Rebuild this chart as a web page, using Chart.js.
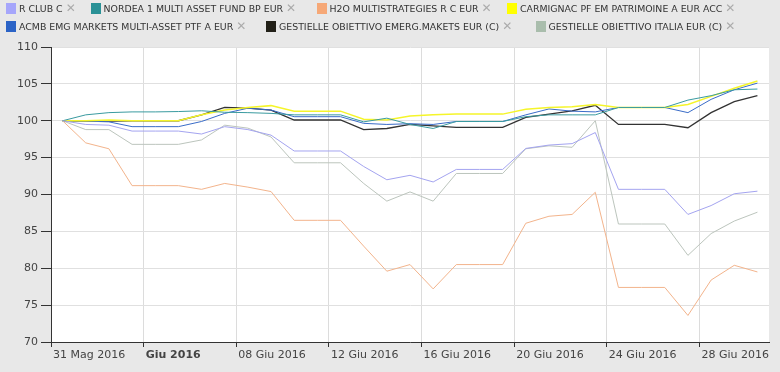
<!DOCTYPE html>
<html>
<head>
<meta charset="utf-8">
<script src="https://cdn.jsdelivr.net/npm/chart.js@4.4.1/dist/chart.umd.min.js"></script>
<style>
html, body { margin: 0; padding: 0; background: #e8e8e8; }
#wrap { position: relative; width: 780px; height: 372px; overflow: hidden; font-family: "DejaVu Sans", Verdana, sans-serif; }
#chart { position: absolute; left: 0; top: 0; }
.leg { position: absolute; display: flex; align-items: center; height: 14px; font-size: 9.4px; color: #333; white-space: nowrap; }
.leg .sq { width: 10px; height: 11px; margin-right: 3px; }
.leg .x { color: #aaa; font-size: 12px; margin-left: 3px; }
</style>
</head>
<body>
<div id="wrap">
  <canvas id="chart" width="780" height="372"></canvas>
  <div id="legend"></div>
</div>
<script>
// giorni (31 Mag - 30 Giu 2016)
const dates = ['31/05','01/06','02/06','03/06','04/06','05/06','06/06','07/06','08/06','09/06',
  '10/06','11/06','12/06','13/06','14/06','15/06','16/06','17/06','18/06','19/06',
  '20/06','21/06','22/06','23/06','24/06','25/06','26/06','27/06','28/06','29/06','30/06'];

// etichette asse x (posizione in giorni dall'inizio)
const tickValues = [-0.5, 3.5, 7.5, 11.5, 15.5, 19.5, 23.5, 27.5];
const tickLabels = ['31 Mag 2016', 'Giu 2016', '08 Giu 2016', '12 Giu 2016', '16 Giu 2016', '20 Giu 2016', '24 Giu 2016', '28 Giu 2016'];

// serie (base 100)
const rClub = [100, 99.5, 99.4, 98.6, 98.6, 98.6, 98.2, 99.2, 98.8, 98.05, 95.9, 95.9, 95.9, 93.8, 92.0, 92.6, 91.7, 93.4, 93.4, 93.4,
  96.25, 96.7, 96.9, 98.4, 90.7, 90.7, 90.7, 87.3, 88.5, 90.1, 90.45];
const nordea = [100, 100.8, 101.1, 101.2, 101.2, 101.25, 101.35, 101.15, 101.1, 101.0, 100.8, 100.8, 100.8, 99.85, 100.35, 99.5, 98.95, 99.9, 99.9, 99.9,
  100.55, 100.8, 100.8, 100.8, 101.8, 101.8, 101.8, 102.8, 103.4, 104.2, 104.3];
const h2o = [100, 97.0, 96.2, 91.2, 91.2, 91.2, 90.7, 91.5, 91.0, 90.4, 86.5, 86.5, 86.5, 83.0, 79.6, 80.5, 77.2, 80.5, 80.5, 80.5,
  86.1, 87.05, 87.3, 90.3, 77.4, 77.4, 77.4, 73.6, 78.4, 80.4, 79.5];
const carmignac = [100, 100, 100.1, 100, 100, 100, 100.8, 101.45, 101.8, 102.05, 101.3, 101.3, 101.3, 100.2, 100.1, 100.65, 100.8, 100.9, 100.9, 100.9,
  101.55, 101.8, 101.9, 102.2, 101.8, 101.8, 101.8, 102.2, 103.3, 104.4, 105.4];
const acmb = [100, 99.95, 99.85, 99.2, 99.2, 99.2, 99.9, 101.0, 101.7, 101.45, 100.55, 100.55, 100.55, 99.65, 99.5, 99.6, 99.5, 99.9, 99.9, 99.9,
  100.8, 101.6, 101.3, 101.2, 101.8, 101.8, 101.8, 101.1, 102.9, 104.2, 105.1];
const emerg = [100, 99.95, 99.95, 100, 100, 100, 100.8, 101.8, 101.7, 101.45, 100.1, 100.1, 100.1, 98.8, 98.95, 99.5, 99.3, 99.1, 99.1, 99.1,
  100.45, 100.9, 101.35, 102.1, 99.5, 99.5, 99.5, 99.05, 101.1, 102.6, 103.4];
const italia = [100, 98.8, 98.8, 96.8, 96.8, 96.8, 97.4, 99.4, 99.0, 97.8, 94.3, 94.3, 94.3, 91.5, 89.1, 90.35, 89.1, 92.85, 92.85, 92.85,
  96.2, 96.6, 96.4, 100.0, 86.0, 86.0, 86.0, 81.75, 84.7, 86.4, 87.6];

const series = [
  { name: 'R CLUB C', data: rClub, box: '#a6a6fb', line: '#a4a4f0', w: 1, left: 6, top: 1 },
  { name: 'NORDEA 1 MULTI ASSET FUND BP EUR', data: nordea, box: '#2a9196', line: '#3a9ba0', w: 1, left: 90.5, top: 1 },
  { name: 'H2O MULTISTRATEGIES R C EUR', data: h2o, box: '#f6a877', line: '#f3b48c', w: 1, left: 316.5, top: 1 },
  { name: 'CARMIGNAC PF EM PATRIMOINE A EUR ACC', data: carmignac, box: '#ffff00', line: '#f5f52a', w: 1.5, left: 507, top: 1 },
  { name: 'ACMB EMG MARKETS MULTI-ASSET PTF A EUR', data: acmb, box: '#2b63c6', line: '#3a6cc8', w: 1, left: 6, top: 19 },
  { name: 'GESTIELLE OBIETTIVO EMERG.MAKETS EUR (C)', data: emerg, box: '#222018', line: '#333333', w: 1.3, left: 266, top: 19 },
  { name: 'GESTIELLE OBIETTIVO ITALIA EUR (C)', data: italia, box: '#a9bdac', line: '#bcc5bd', w: 1, left: 535.5, top: 19 }
];

// legenda html
const legendEl = document.getElementById('legend');
series.forEach(s => {
  const item = document.createElement('div');
  item.className = 'leg';
  item.style.left = s.left + 'px';
  item.style.top = s.top + 'px';
  item.innerHTML = '<span class="sq" style="background:' + s.box + '"></span><span>' + s.name + '</span><span class="x">\u2715</span>';
  legendEl.appendChild(item);
});

Chart.defaults.font.family = '"DejaVu Sans", Verdana, sans-serif';

// sfondo bianco dell'area del grafico
const plotBg = {
  id: 'plotBg',
  beforeDraw(chart) {
    const { ctx, chartArea: a } = chart;
    ctx.save();
    ctx.fillStyle = '#ffffff';
    ctx.fillRect(a.left, a.top, a.right - a.left, a.bottom - a.top);
    ctx.restore();
  }
};

new Chart(document.getElementById('chart').getContext('2d'), {
  type: 'line',
  data: {
    datasets: series.map(s => ({
      label: s.name,
      data: s.data.map((v, i) => ({ x: i, y: v })),
      borderColor: s.line,
      borderWidth: s.w,
      pointRadius: 0,
      tension: 0,
      fill: false
    }))
  },
  options: {
    responsive: false,
    animation: false,
    devicePixelRatio: 1,
    layout: { padding: { top: 47, right: 11, left: 0, bottom: 0 } },
    plugins: { legend: { display: false }, tooltip: { enabled: false } },
    scales: {
      x: {
        type: 'linear',
        min: -0.5,
        max: 30.5,
        afterBuildTicks: s => { s.ticks = tickValues.map(v => ({ value: v })); },
        afterFit: s => { s.height = 30; },
        grid: { color: '#dcdcdc', tickColor: '#333', tickLength: 5 },
        border: { color: '#333', width: 1 },
        ticks: {
          align: 'start',
          labelOffset: 2,
          maxRotation: 0,
          autoSkip: false,
          padding: 2,
          color: '#444',
          font: ctx => ({ size: 11, weight: ctx.index === 1 ? 'bold' : 'normal' }),
          callback: (v, i) => tickLabels[i]
        }
      },
      y: {
        min: 70,
        max: 110,
        afterFit: s => { s.width = 51; },
        grid: { color: '#e0e0e0', tickColor: '#333', tickLength: 10 },
        border: { color: '#333', width: 1 },
        ticks: { stepSize: 5, color: '#444', padding: 3, font: { size: 11 } }
      }
    }
  },
  plugins: [plotBg]
});
</script>
</body>
</html>
